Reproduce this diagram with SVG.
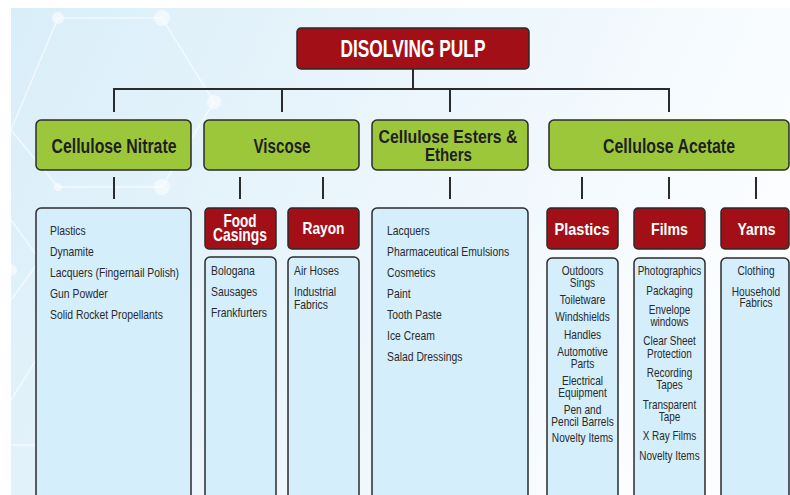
<svg xmlns="http://www.w3.org/2000/svg" width="790" height="495" viewBox="0 0 790 495">
<defs>
<linearGradient id="bg" x1="0" y1="0" x2="1" y2="0.3">
<stop offset="0" stop-color="#d9eef9"/>
<stop offset="0.55" stop-color="#ecf6fc"/>
<stop offset="1" stop-color="#fbfdff"/>
</linearGradient>
<style>
.red{fill:#A30F17;stroke:#2b2b2b;stroke-width:1.5}
.green{fill:#9DC73B;stroke:#2b2b2b;stroke-width:1.5}
.list{fill:#D4EEFB;stroke:#2b2b2b;stroke-width:1.5}
.hd{font-family:"Liberation Sans",Arial,sans-serif;font-weight:bold;text-anchor:middle}
.wt{fill:#ffffff}
.dk{fill:#1f1f1f}
.li{font-family:"Liberation Sans",Arial,sans-serif;font-size:12px;fill:#2a2a2a}
.c{text-anchor:middle}
.conn{stroke:#2b2b2b;stroke-width:2;fill:none}
.net{stroke:#ffffff;stroke-width:1.5;fill:none;opacity:0.6}
.dot{fill:#ffffff;opacity:0.55}
</style>
</defs>
<rect width="790" height="495" fill="#ffffff"/>
<rect x="11" y="8" width="779" height="487" fill="url(#bg)"/>
<g id="background-network">
<path class="net" d="M11 130 L58 18 L162 18 L214 102 L162 187 L58 187 Z"/>
<path class="net" d="M11 300 L40 260 L11 220"/>
<path class="net" d="M11 445 L36 445 M11 400 L36 360"/>
<circle class="dot" cx="58" cy="18" r="6"/>
<circle class="dot" cx="162" cy="18" r="8"/>
<circle class="dot" cx="214" cy="102" r="7"/>
<circle class="dot" cx="162" cy="187" r="8"/>
<circle class="dot" cx="58" cy="187" r="4"/>
<circle class="dot" cx="11" cy="270" r="6"/>
</g>
<g id="connectors">
<path class="conn" d="M413 69 V89 M114 112 V89 H669 V112 M282 89 V112 M450 89 V112"/>
<path class="conn" d="M114 177 V199 M240 177 V199 M323 177 V199 M450 177 V199 M582 177 V199 M669 177 V199 M756 177 V199"/>
</g>
<g id="disolving-pulp">
<rect class="red" x="297" y="28" width="232" height="41" rx="4"/>
<text class="hd wt" x="413" y="57" font-size="23" textLength="145" lengthAdjust="spacingAndGlyphs">DISOLVING PULP</text>
</g>
<g id="cellulose-nitrate">
<rect class="green" x="36" y="120" width="155" height="50" rx="5"/>
<text class="hd dk" x="114" y="153" font-size="20" textLength="125" lengthAdjust="spacingAndGlyphs">Cellulose Nitrate</text>
</g>
<g id="viscose">
<rect class="green" x="204" y="120" width="155" height="50" rx="5"/>
<text class="hd dk" x="282" y="153" font-size="20" textLength="57" lengthAdjust="spacingAndGlyphs">Viscose</text>
</g>
<g id="cellulose-esters-ethers">
<rect class="green" x="372" y="120" width="156" height="50" rx="5"/>
<text class="hd dk" x="448" y="143" font-size="18" textLength="139" lengthAdjust="spacingAndGlyphs">Cellulose Esters &amp;</text>
<text class="hd dk" x="448.5" y="161" font-size="18" textLength="47" lengthAdjust="spacingAndGlyphs">Ethers</text>
</g>
<g id="cellulose-acetate">
<rect class="green" x="549" y="120" width="240" height="50" rx="5"/>
<text class="hd dk" x="669" y="153" font-size="20" textLength="132" lengthAdjust="spacingAndGlyphs">Cellulose Acetate</text>
</g>
<g id="nitrate-uses">
<rect class="list" x="36" y="208" width="155" height="300" rx="5"/>
<g class="li" transform="translate(50,0) scale(0.865,1)">
<text x="0" y="235">Plastics</text>
<text x="0" y="256">Dynamite</text>
<text x="0" y="277">Lacquers (Fingernail Polish)</text>
<text x="0" y="298">Gun Powder</text>
<text x="0" y="319">Solid Rocket Propellants</text>
</g>
</g>
<g id="food-casings">
<rect class="red" x="205" y="208" width="71" height="41" rx="4"/>
<text class="hd wt" x="240" y="227" font-size="18" textLength="33" lengthAdjust="spacingAndGlyphs">Food</text>
<text class="hd wt" x="240" y="241" font-size="18" textLength="54" lengthAdjust="spacingAndGlyphs">Casings</text>
</g>
<g id="food-casings-uses">
<rect class="list" x="205" y="257" width="71" height="250" rx="5"/>
<g class="li" transform="translate(211,0) scale(0.865,1)">
<text x="0" y="275">Bologana</text>
<text x="0" y="296">Sausages</text>
<text x="0" y="317">Frankfurters</text>
</g>
</g>
<g id="rayon">
<rect class="red" x="288" y="208" width="71" height="41" rx="4"/>
<text class="hd wt" x="323.5" y="234" font-size="17" textLength="42" lengthAdjust="spacingAndGlyphs">Rayon</text>
</g>
<g id="rayon-uses">
<rect class="list" x="288" y="257" width="71" height="250" rx="5"/>
<g class="li" transform="translate(294,0) scale(0.865,1)">
<text x="0" y="275">Air Hoses</text>
<text x="0" y="296">Industrial</text>
<text x="0" y="309">Fabrics</text>
</g>
</g>
<g id="esters-uses">
<rect class="list" x="372" y="208" width="156" height="300" rx="5"/>
<g class="li" transform="translate(387,0) scale(0.865,1)">
<text x="0" y="235">Lacquers</text>
<text x="0" y="256">Pharmaceutical Emulsions</text>
<text x="0" y="277">Cosmetics</text>
<text x="0" y="298">Paint</text>
<text x="0" y="319">Tooth Paste</text>
<text x="0" y="340">Ice Cream</text>
<text x="0" y="361">Salad Dressings</text>
</g>
</g>
<g id="plastics">
<rect class="red" x="547" y="208" width="71" height="41" rx="4"/>
<text class="hd wt" x="582" y="235" font-size="17" textLength="55" lengthAdjust="spacingAndGlyphs">Plastics</text>
</g>
<g id="plastics-uses">
<rect class="list" x="547" y="258" width="71" height="250" rx="5"/>
<g class="li c" transform="translate(582.5,0) scale(0.845,1)">
<text x="0" y="275">Outdoors</text>
<text x="0" y="287">Sings</text>
<text x="0" y="304">Toiletware</text>
<text x="0" y="321">Windshields</text>
<text x="0" y="339">Handles</text>
<text x="0" y="356">Automotive</text>
<text x="0" y="368">Parts</text>
<text x="0" y="385">Electrical</text>
<text x="0" y="397">Equipment</text>
<text x="0" y="414">Pen and</text>
<text x="0" y="426">Pencil Barrels</text>
<text x="0" y="442">Novelty Items</text>
</g>
</g>
<g id="films">
<rect class="red" x="634" y="208" width="71" height="41" rx="4"/>
<text class="hd wt" x="669.5" y="235" font-size="17" textLength="37" lengthAdjust="spacingAndGlyphs">Films</text>
</g>
<g id="films-uses">
<rect class="list" x="634" y="258" width="71" height="250" rx="5"/>
<g class="li c" transform="translate(669.5,0) scale(0.83,1)">
<text x="0" y="275">Photographics</text>
<text x="0" y="295">Packaging</text>
<text x="0" y="314">Envelope</text>
<text x="0" y="326">windows</text>
<text x="0" y="345">Clear Sheet</text>
<text x="0" y="358">Protection</text>
<text x="0" y="377">Recording</text>
<text x="0" y="389">Tapes</text>
<text x="0" y="409">Transparent</text>
<text x="0" y="421">Tape</text>
<text x="0" y="440">X Ray Films</text>
<text x="0" y="460">Novelty Items</text>
</g>
</g>
<g id="yarns">
<rect class="red" x="721" y="208" width="68" height="41" rx="4"/>
<text class="hd wt" x="756.5" y="235" font-size="17" textLength="38" lengthAdjust="spacingAndGlyphs">Yarns</text>
</g>
<g id="yarns-uses">
<rect class="list" x="721" y="258" width="68" height="250" rx="5"/>
<g class="li c" transform="translate(756,0) scale(0.845,1)">
<text x="0" y="275">Clothing</text>
<text x="0" y="296">Household</text>
<text x="0" y="307">Fabrics</text>
</g>
</g>
</svg>
